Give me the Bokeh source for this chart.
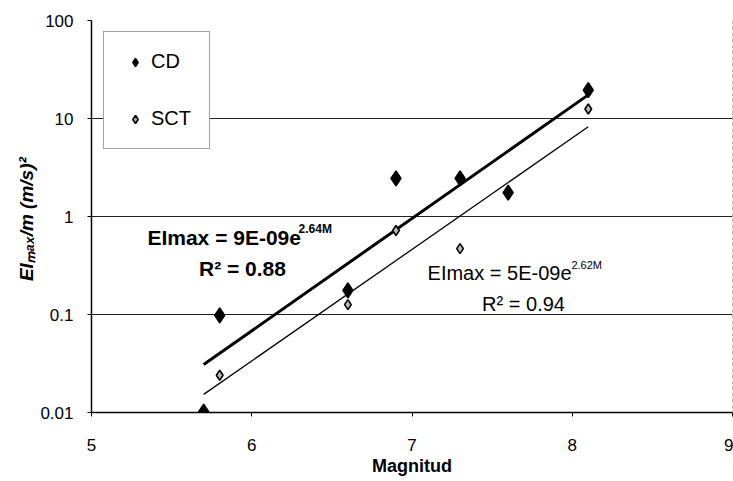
import numpy as np
from bokeh.plotting import figure
from bokeh.models import FixedTicker, Label, Span, Legend, LegendItem
from bokeh.embed import file_html
from bokeh.resources import INLINE

# ---- data ----
cd_m = [5.7, 5.8, 6.6, 6.9, 7.3, 7.6, 8.1]
cd_v = [0.0102, 0.098, 0.176, 2.45, 2.45, 1.75, 19.5]
sct_m = [5.8, 6.6, 6.9, 7.3, 8.1]
sct_v = [0.024, 0.126, 0.72, 0.47, 12.5]

# trend lines shown in the chart: EImax = a * exp(b * M)
cd_a, cd_b = 9e-9, 2.64
sct_a, sct_b = 5e-9, 2.62
trend_m = [5.7, 8.1]

x_ticks = [5, 6, 7, 8, 9]
y_ticks = [0.01, 0.1, 1, 10, 100]
y_tick_labels = ["0.01", "0.1", "1", "10", "100"]

cd_eq = ["EImax = 9E-09e", "2.64M", "R² = 0.88"]
sct_eq = ["EImax = 5E-09e", "2.62M", "R² = 0.94"]

FONT = "Liberation Sans"

p = figure(width=733, height=481, x_range=(5, 9), y_range=(0.01, 100),
           y_axis_type="log", output_backend="svg", toolbar_location=None,
           min_border_left=91, min_border_right=1, min_border_top=20,
           min_border_bottom=69)
p.outline_line_color = None
p.background_fill_color = "white"

# grid
p.xgrid.visible = False
p.ygrid.ticker = FixedTicker(ticks=y_ticks)
p.ygrid.grid_line_color = "#222222"
p.ygrid.grid_line_width = 1

# axes
p.xaxis.ticker = FixedTicker(ticks=x_ticks, minor_ticks=[])
p.yaxis.ticker = FixedTicker(ticks=y_ticks, minor_ticks=[])
p.yaxis.major_label_overrides = {t: l for t, l in zip(y_ticks, y_tick_labels)}
for ax in (p.xaxis[0], p.yaxis[0]):
    ax.axis_line_color = "black"
    ax.axis_line_width = 1.5
    ax.major_tick_line_color = "black"
    ax.major_tick_out = 4
    ax.major_tick_in = 0
    ax.minor_tick_line_color = None
    ax.major_label_text_font = FONT
    ax.major_label_text_font_size = "17px"
    ax.major_label_text_color = "black"
    ax.axis_label_text_font = FONT
    ax.axis_label_text_font_size = "18px"
    ax.axis_label_text_font_style = "bold"
    ax.axis_label_text_color = "black"
p.xaxis.major_label_standoff = 22
p.yaxis.major_label_standoff = 14
p.xaxis.axis_label = "Magnitud"
p.xaxis.axis_label_standoff = 2
p.yaxis.axis_label = "EIₘₐₓ/m  (m/s)²"
p.yaxis.axis_label_text_font_style = "bold italic"
p.yaxis.axis_label_text_font_size = "19px"
p.yaxis.axis_label_standoff = 0

# right border (dashed)
p.add_layout(Span(location=9, dimension="height", line_color="#777777",
                  line_dash="4 2", line_width=1))

# trend lines
tm = np.array(trend_m)
p.line(tm, cd_a * np.exp(cd_b * tm), line_color="black", line_width=3)
p.line(tm, sct_a * np.exp(sct_b * tm), line_color="black", line_width=1.3)

# points
cd_r = p.scatter(cd_m, cd_v, marker="diamond", size=15,
                 fill_color="black", line_color="black", line_width=1.5)
sct_r = p.scatter(sct_m, sct_v, marker="diamond", size=10,
                  fill_color="#bbbbbb", line_color="black", line_width=1.6)

legend = Legend(items=[LegendItem(label="CD", renderers=[cd_r]),
                       LegendItem(label="SCT", renderers=[sct_r])],
                location=(12, 263), padding=18, spacing=34,
                glyph_width=26, glyph_height=20, label_height=20,
                label_standoff=3,
                label_text_font=FONT, label_text_font_size="20px",
                label_text_color="black",
                border_line_color="#444444", border_line_width=1,
                background_fill_color="white", background_fill_alpha=1)
p.add_layout(legend)

# equations
def lab(x, y, text, size, style, align):
    p.add_layout(Label(x=x, y=y, text=text, text_font=FONT,
                       text_font_size=size, text_font_style=style,
                       text_color="black", text_baseline="middle",
                       text_align=align))

lab(5.349, 0.61, cd_eq[0], "21px", "bold", "left")
lab(6.292, 0.74, cd_eq[1], "12px", "bold", "left")
lab(5.942, 0.294, cd_eq[2], "21px", "bold", "center")

lab(7.097, 0.268, sct_eq[0], "20px", "normal", "left")
lab(7.995, 0.32, sct_eq[1], "11px", "normal", "left")
lab(7.696, 0.129, sct_eq[2], "20px", "normal", "center")

open("out.html", "w").write(file_html(p, INLINE))
